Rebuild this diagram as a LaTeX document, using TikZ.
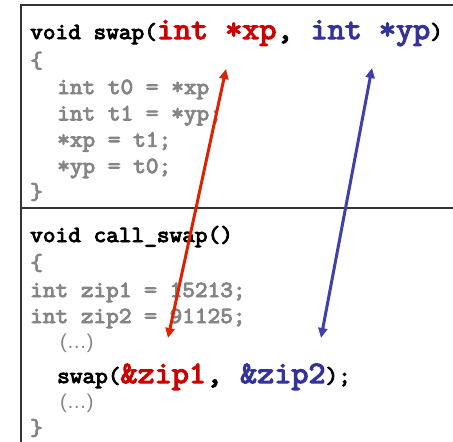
\documentclass[tikz,border=0pt]{standalone}
\usepackage{fontspec}
\setmainfont{Liberation Sans}
\newfontfamily\codefont{Latin Modern Mono}[FakeStretch=1.07, FakeBold=4]
\usetikzlibrary{arrows.meta}
\definecolor{codegray}{HTML}{858585}
\definecolor{codered}{HTML}{CC0000}
\definecolor{codeblue}{HTML}{333399}
\definecolor{arrred}{HTML}{DD2200}
\definecolor{arrblue}{HTML}{4040AA}
\tikzset{
  code/.style={anchor=base west, inner sep=0pt, font=\codefont\fontsize{23}{23}\selectfont},
  graycode/.style={code, text=codegray},
  dots/.style={anchor=base west, inner sep=0pt, text=codegray, font=\fontsize{20}{20}\selectfont},
  frame/.style={draw=black!80, line width=1.2pt},
  ptr/.style={line width=3pt, {Triangle[length=10pt,width=9pt]}-{Triangle[length=10pt,width=9pt]}},
}
\newcommand{\bigcode}{\fontsize{31}{31}\selectfont}
\begin{document}
\begin{tikzpicture}[x=1pt,y=-1pt]
\useasboundingbox (0,0) rectangle (453,442);
\fill[white] (0,0) rectangle (453,442);
% frames
\draw[frame] (455,5) -- (21,5) -- (21,444);
\draw[frame] (21,208) -- (455,208);
% swap function
\node[code] (sig) at (30,39) {void swap(\textcolor{codered}{\bigcode int *xp}{\bigcode, }\textcolor{codeblue}{\bigcode int *yp})};
\node[graycode] (ob1) at (30,67.7) {\{};
\node[graycode] (l1) at (57,94) {int t0 = *xp};
\node[graycode] (l2) at (57,120.3) {int t1 = *yp;};
\node[graycode] (l3) at (57,146.6) {*xp = t1;};
\node[graycode] (l4) at (57,173) {*yp = t0;};
\node[graycode] (cb1) at (30,199) {\}};
% call_swap function
\node[code] (csig) at (30,242) {void call\_swap()};
\node[graycode] (ob2) at (30,270) {\{};
\node[graycode] (z1) at (30,297) {int zip1 = 15213;};
\node[graycode] (z2) at (30,323) {int zip2 = 91125;};
\node[dots] (d1) at (60,348) {(…)};
\node[code] (call) at (57,383) {swap(\textcolor{codered}{\bigcode\&zip1}{\bigcode, }\textcolor{codeblue}{\bigcode\&zip2});};
\node[dots] (d2) at (60,408) {(…)};
\node[graycode] (cb2) at (30,435) {\}};
% arrow ends
\coordinate (xptop) at (226,69);
\coordinate (xpbot) at (168,338);
\coordinate (yptop) at (372,68);
\coordinate (ypbot) at (321,338);
\draw[ptr, arrred] (xpbot) -- (xptop);
\draw[ptr, arrblue] (ypbot) -- (yptop);
\end{tikzpicture}
\end{document}
